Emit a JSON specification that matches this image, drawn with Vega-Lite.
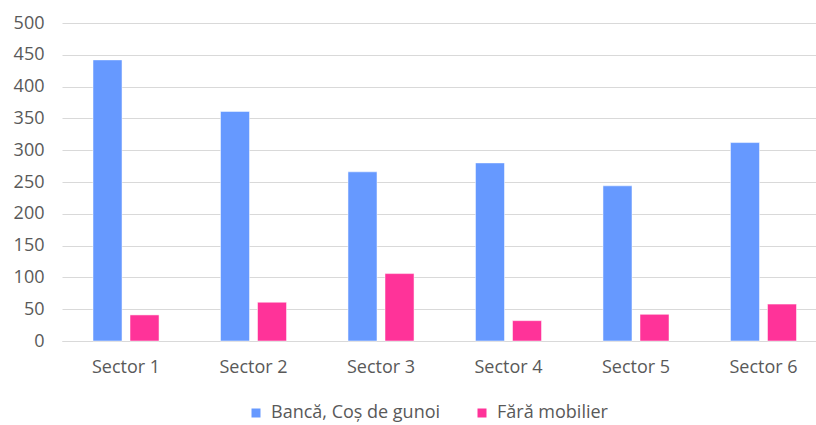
{
  "$schema": "https://vega.github.io/schema/vega-lite/v6.json",
  "autosize": {"type": "none"},
  "padding": {"left": 62, "top": 23, "right": 0, "bottom": 84},
  "width": 754,
  "height": 318,
  "background": "#ffffff",
  "data": {
    "values": [
      {"sector": "Sector 1", "serie": "Bancă, Coș de gunoi", "valoare": 442},
      {"sector": "Sector 1", "serie": "Fără mobilier", "valoare": 41},
      {"sector": "Sector 2", "serie": "Bancă, Coș de gunoi", "valoare": 361},
      {"sector": "Sector 2", "serie": "Fără mobilier", "valoare": 61},
      {"sector": "Sector 3", "serie": "Bancă, Coș de gunoi", "valoare": 266},
      {"sector": "Sector 3", "serie": "Fără mobilier", "valoare": 106},
      {"sector": "Sector 4", "serie": "Bancă, Coș de gunoi", "valoare": 280},
      {"sector": "Sector 4", "serie": "Fără mobilier", "valoare": 32},
      {"sector": "Sector 5", "serie": "Bancă, Coș de gunoi", "valoare": 244},
      {"sector": "Sector 5", "serie": "Fără mobilier", "valoare": 42},
      {"sector": "Sector 6", "serie": "Bancă, Coș de gunoi", "valoare": 312},
      {"sector": "Sector 6", "serie": "Fără mobilier", "valoare": 58}
    ]
  },
  "mark": {"type": "bar", "stroke": "#ffffff", "strokeOpacity": 0.5, "strokeWidth": 1},
  "encoding": {
    "x": {
      "field": "sector",
      "type": "nominal",
      "sort": null,
      "scale": {"paddingInner": 0.482, "paddingOuter": 0.198, "align": 0.614},
      "axis": {
        "title": null,
        "labelAngle": 0,
        "ticks": false,
        "domain": true,
        "domainColor": "#d9d9d9",
        "domainWidth": 1,
        "labelPadding": 17,
        "labelFont": "Open Sans",
        "labelFontSize": 18,
        "labelColor": "#595959"
      }
    },
    "xOffset": {
      "field": "serie",
      "type": "nominal",
      "sort": ["Bancă, Coș de gunoi", "Fără mobilier"],
      "scale": {"paddingInner": 0.216, "paddingOuter": 0}
    },
    "y": {
      "field": "valoare",
      "type": "quantitative",
      "scale": {"domain": [0, 500], "nice": false},
      "axis": {
        "title": null,
        "values": [0, 50, 100, 150, 200, 250, 300, 350, 400, 450, 500],
        "ticks": false,
        "domain": false,
        "grid": true,
        "gridColor": "#d9d9d9",
        "gridWidth": 1,
        "labelPadding": 18,
        "labelFont": "Open Sans",
        "labelFontSize": 18,
        "labelColor": "#595959"
      }
    },
    "color": {
      "field": "serie",
      "type": "nominal",
      "sort": ["Bancă, Coș de gunoi", "Fără mobilier"],
      "scale": {"domain": ["Bancă, Coș de gunoi", "Fără mobilier"], "range": ["#6699ff", "#ff3399"]},
      "legend": {
        "title": null,
        "orient": "none",
        "direction": "horizontal",
        "legendX": 185,
        "legendY": 381,
        "symbolType": "square",
        "symbolSize": 81,
        "symbolStrokeWidth": 0,
        "labelFont": "Open Sans",
        "labelFontSize": 18,
        "labelColor": "#595959",
        "labelLimit": 400,
        "labelOffset": 6,
        "columnPadding": 32,
        "padding": 0
      }
    }
  },
  "config": {
    "view": {"stroke": null},
    "axis": {"labelFont": "Open Sans"}
  }
}
